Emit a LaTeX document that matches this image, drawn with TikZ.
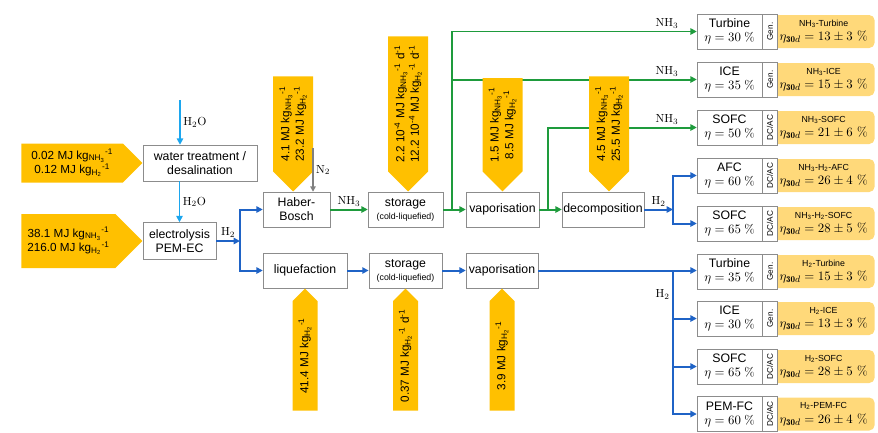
\documentclass[tikz,border=0pt]{standalone}
\usepackage{fontspec}
\newfontfamily\arialfont{Liberation Sans}
\usetikzlibrary{positioning, shapes.arrows, arrows.meta, backgrounds}
\definecolor{gold}{HTML}{FFC000}
\definecolor{paleyellow}{HTML}{FFD97A}
\definecolor{nhgreen}{HTML}{1E9B3C}
\definecolor{hblue}{HTML}{1F63C6}
\definecolor{wblue}{HTML}{1CA6EE}
\definecolor{boxgray}{HTML}{8C8C8C}
\newcommand{\kgnh}{kg\textsubscript{NH\textsubscript{3}}\textsuperscript{-1}}
\newcommand{\kgh}{kg\textsubscript{H\textsubscript{2}}\textsuperscript{-1}}
\newcommand{\tinyfont}{\arialfont\fontsize{7.5}{8}\selectfont}
\tikzstyle{process} = [rectangle, minimum height=10.5mm, text centered, align=center, draw=boxgray, fill=white, inner sep=1pt, font=\arialfont\fontsize{10.5}{12}\selectfont]
\tikzstyle{unit} = [process, minimum width=19.5mm]
\tikzstyle{conv} = [rectangle, draw=boxgray, fill=white, rotate=90, anchor=north, minimum width=10.5mm, minimum height=4.5mm, inner sep=0pt, font=\arialfont\fontsize{7}{7}\selectfont]
\tikzstyle{result} = [rectangle, rounded corners=1.6mm, fill=paleyellow, anchor=west, minimum width=30.6mm, minimum height=9.9mm, align=center, inner sep=0pt, xshift=0.5mm, font=\fontsize{11}{11}\selectfont]
\tikzstyle{energy} = [single arrow, single arrow head extend=0pt, single arrow tip angle=90, fill=gold, anchor=tip, inner sep=1pt, align=center, font=\arialfont\fontsize{10}{12.5}\selectfont]
\tikzstyle{water} = [line width=1.7pt, wblue, -{Triangle[length=1.9mm,width=1.9mm]}]
\tikzstyle{hline} = [line width=1.7pt, hblue, -{Triangle[length=1.9mm,width=1.9mm]}]
\tikzstyle{nhline} = [line width=1.7pt, nhgreen, -{Triangle[length=1.9mm,width=1.9mm]}]
\tikzstyle{nline} = [line width=1.2pt, gray, -{Triangle[length=1.6mm,width=1.6mm]}]
\tikzstyle{flow} = [inner sep=2pt, text=black, font=\fontsize{10}{12}\selectfont]

\begin{document}
\begin{tikzpicture}[x=0.3mm, y=-0.3mm]
  \useasboundingbox (0,0) rectangle (878,432);
  % process chain
  \node (wt) [process, minimum width=34.2mm, minimum height=10.8mm] at (200,163) {water treatment /\\desalination};
  \node (pem) [process, minimum width=21.9mm, minimum height=11.1mm] at (179.5,241) {electrolysis\\PEM-EC};
  \node (hb) [process, minimum width=20.1mm] at (296.5,209.5) {Haber-\\Bosch};
  \node (st1) [process, minimum width=22.5mm] at (405.5,209.5) {storage\\[-1pt]{\tinyfont (cold-liquefied)}};
  \node (vap1) [process, minimum width=21.9mm] at (502.5,209.5) {vaporisation};
  \node (dec) [process, minimum width=24.6mm] at (603,209.5) {decomposition};
  \node (liq) [process, minimum width=25.2mm] at (305,270.5) {liquefaction};
  \node (st2) [process, minimum width=22mm] at (405.5,270.5) {storage\\[-1pt]{\tinyfont (cold-liquefied)}};
  \node (vap2) [process, minimum width=21.6mm] at (502,270.5) {vaporisation};

  % conversion units
  \node (tNH) [unit] at (729.5,31.5) {Turbine\\$\eta = 30\ \%$};
  \node (tNHc) [conv] at (tNH.east) {Gen.};
  \node (iNH) [unit] at (729.5,79.5) {ICE\\$\eta = 35\ \%$};
  \node (iNHc) [conv] at (iNH.east) {Gen.};
  \node (sNH) [unit] at (729.5,127.5) {SOFC\\$\eta = 50\ \%$};
  \node (sNHc) [conv] at (sNH.east) {DC/AC};
  \node (aNH) [unit] at (729.5,175.5) {AFC\\$\eta = 60\ \%$};
  \node (aNHc) [conv] at (aNH.east) {DC/AC};
  \node (sNHH) [unit] at (729.5,223.5) {SOFC\\$\eta = 65\ \%$};
  \node (sNHHc) [conv] at (sNHH.east) {DC/AC};
  \node (tH) [unit] at (729.5,271.5) {Turbine\\$\eta = 35\ \%$};
  \node (tHc) [conv] at (tH.east) {Gen.};
  \node (iH) [unit] at (729.5,318.5) {ICE\\$\eta = 30\ \%$};
  \node (iHc) [conv] at (iH.east) {Gen.};
  \node (sH) [unit] at (729.5,366.5) {SOFC\\$\eta = 65\ \%$};
  \node (sHc) [conv] at (sH.east) {DC/AC};
  \node (pH) [unit] at (729.5,414) {PEM-FC\\$\eta = 60\ \%$};
  \node (pHc) [conv] at (pH.east) {DC/AC};

  % round-trip results
  \begin{scope}[on background layer]
    \node (tNHr) [result] at ([xshift=-2.1mm]tNHc.south) {{\tinyfont NH\textsubscript{3}-Turbine}\\[1.5pt]$\eta_{\mathbf{30}d} = 13 \pm 3\ \%$};
    \node (iNHr) [result] at ([xshift=-2.1mm]iNHc.south) {{\tinyfont NH\textsubscript{3}-ICE}\\[1.5pt]$\eta_{\mathbf{30}d} = 15 \pm 3\ \%$};
    \node (sNHr) [result] at ([xshift=-2.1mm]sNHc.south) {{\tinyfont NH\textsubscript{3}-SOFC}\\[1.5pt]$\eta_{\mathbf{30}d} = 21 \pm 6\ \%$};
    \node (aNHr) [result] at ([xshift=-2.1mm]aNHc.south) {{\tinyfont NH\textsubscript{3}-H\textsubscript{2}-AFC}\\[1.5pt]$\eta_{\mathbf{30}d} = 26 \pm 4\ \%$};
    \node (sNHHr) [result] at ([xshift=-2.1mm]sNHHc.south) {{\tinyfont NH\textsubscript{3}-H\textsubscript{2}-SOFC}\\[1.5pt]$\eta_{\mathbf{30}d} = 28 \pm 5\ \%$};
    \node (tHr) [result] at ([xshift=-2.1mm]tHc.south) {{\tinyfont H\textsubscript{2}-Turbine}\\[1.5pt]$\eta_{\mathbf{30}d} = 15 \pm 3\ \%$};
    \node (iHr) [result] at ([xshift=-2.1mm]iHc.south) {{\tinyfont H\textsubscript{2}-ICE}\\[1.5pt]$\eta_{\mathbf{30}d} = 13 \pm 3\ \%$};
    \node (sHr) [result] at ([xshift=-2.1mm]sHc.south) {{\tinyfont H\textsubscript{2}-SOFC}\\[1.5pt]$\eta_{\mathbf{30}d} = 28 \pm 5\ \%$};
    \node (pHr) [result] at ([xshift=-2.1mm]pHc.south) {{\tinyfont H\textsubscript{2}-PEM-FC}\\[1.5pt]$\eta_{\mathbf{30}d} = 26 \pm 4\ \%$};
  \end{scope}

  % water and hydrogen supply
  \coordinate (win) at (180,100);
  \draw [water] (win) -- (win |- wt.north) node (lw1) [flow, midway, right] {$\mathrm{H_2O}$};
  \draw [water] (pem.north |- wt.south) -- (pem.north) node (lw2) [flow, midway, right] {$\mathrm{H_2O}$};
  \coordinate (jpem) at (240,241);
  \draw [hline] (pem.east) -- (jpem) node (lh1) [flow, midway, above] {$\mathrm{H_2}$};
  \draw [hline] (jpem) |- (hb.west);
  \draw [hline] (jpem) |- (liq.west);

  % ammonia path
  \draw [nhline] (hb.east) -- (st1.west) node (ln1) [flow, midway, above] {$\mathrm{NH_3}$};
  \draw [nhline] (st1.east) -- (vap1.west);
  \coordinate (jst) at (452,209.5);
  \draw [nhline] (jst) |- (tNH.west) node (lt1) [flow, above left, xshift=-4.5mm] {$\mathrm{NH_3}$};
  \draw [nhline] (jst) |- (iNH.west) node (lt2) [flow, above left, xshift=-4.5mm] {$\mathrm{NH_3}$};
  \draw [nhline] (vap1.east) -- (dec.west);
  \coordinate (jvap) at (548,209.5);
  \draw [nhline] (jvap) |- (sNH.west) node (lt3) [flow, above left, xshift=-4.5mm] {$\mathrm{NH_3}$};
  \coordinate (jdec) at (673,209.5);
  \draw [hline] (dec.east) -- (jdec) node (lh2) [flow, midway, above] {$\mathrm{H_2}$};
  \draw [hline] (jdec) |- (aNH.west);
  \draw [hline] (jdec) |- (sNHH.west);

  % liquid hydrogen path
  \draw [hline] (liq.east) -- (st2.west);
  \draw [hline] (st2.east) -- (vap2.west);
  \draw [hline] (vap2.east) -- (vap2.east -| tH.west);
  \coordinate (jh) at (673,270.5);
  \draw [hline] (jh) |- (iH.west) node (lh3) [flow, pos=0.25, left] {$\mathrm{H_2}$};
  \draw [hline] (jh) |- (sH.west);
  \draw [hline] (jh) |- (pH.west);

  % energy demand
  \node (ewt) [energy, minimum height=36.3mm, minimum width=11.7mm] at (wt.west) {0.02 MJ \kgnh\\0.12 MJ \kgh};
  \node (epem) [energy, minimum height=36.3mm, minimum width=16.2mm] at (pem.west) {38.1 MJ \kgnh\\216.0 MJ \kgh};
  \node (ehb) [energy, rotate=90, shape border rotate=180, minimum height=34.5mm, minimum width=12mm] at ([xshift=-1mm]hb.north) {4.1 MJ \kgnh\\23.2 MJ \kgh};
  \node (est1) [energy, rotate=90, shape border rotate=180, minimum height=46.5mm, minimum width=12mm] at ([xshift=0.8mm]st1.north) {2.2 10\textsuperscript{-4} MJ \kgnh{} d\textsuperscript{-1}\\12.2 10\textsuperscript{-4} MJ \kgh{} d\textsuperscript{-1}};
  \node (evap1) [energy, rotate=90, shape border rotate=180, minimum height=34mm, minimum width=12mm] at (vap1.north) {1.5 MJ \kgnh\\8.5 MJ \kgh};
  \node (edec) [energy, rotate=90, shape border rotate=180, minimum height=34.5mm, minimum width=12mm] at ([xshift=1.8mm]dec.north) {4.5 MJ \kgnh\\25.5 MJ \kgh};
  \node (eliq) [energy, rotate=90, minimum height=36.6mm, minimum width=7.5mm] at (liq.south) {41.4 MJ \kgh};
  \node (est2) [energy, rotate=90, minimum height=36.6mm, minimum width=7.5mm] at (st2.south) {0.37 MJ \kgh{} d\textsuperscript{-1}};
  \node (evap2) [energy, rotate=90, minimum height=36.6mm, minimum width=7.5mm] at (vap2.south) {3.9 MJ \kgh};

  % nitrogen feed
  \coordinate (nin) at (313,148);
  \draw [nline] (nin) -- (nin |- hb.north) node (ln2) [flow, midway, right] {$\mathrm{N_2}$};
\end{tikzpicture}
\end{document}
